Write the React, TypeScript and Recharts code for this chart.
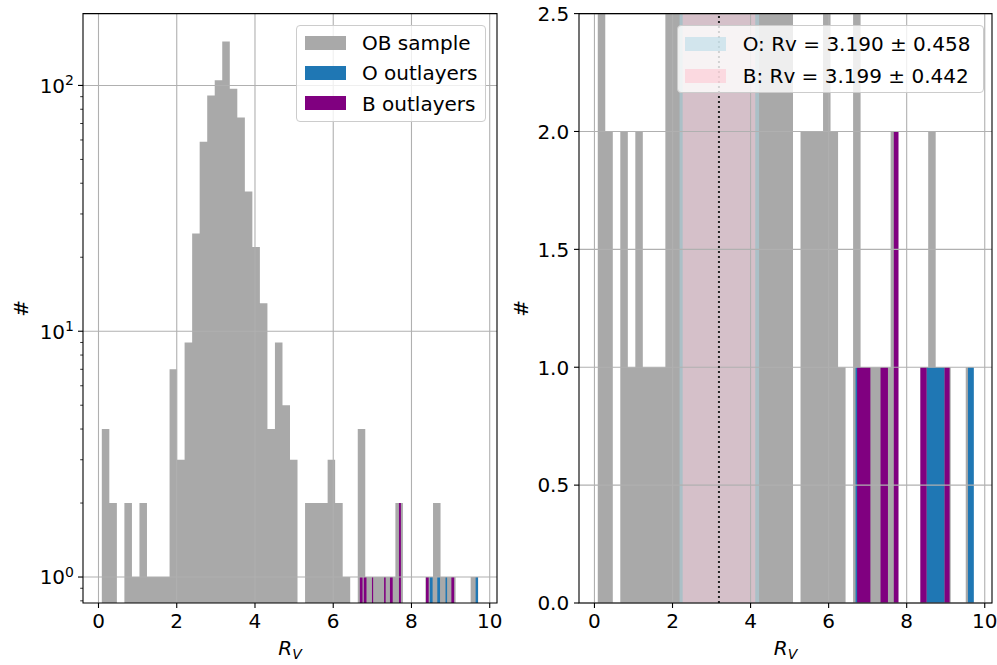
import React from 'react';
import {
  ComposedChart,
  Area,
  XAxis,
  YAxis,
  CartesianGrid,
  ReferenceArea,
  ReferenceLine,
  Legend,
} from 'recharts';

// ---------------- data ----------------
// OB sample histogram: bin edges (R_V) and counts
const obEdges = [
  0.085, 0.277, 0.47, 0.662, 0.855, 1.047, 1.239, 1.432, 1.624, 1.817, 2.009,
  2.201, 2.394, 2.586, 2.779, 2.971, 3.163, 3.356, 3.548, 3.741, 3.933, 4.125,
  4.318, 4.51, 4.703, 4.895, 5.087, 5.28, 5.472, 5.665, 5.857, 6.049, 6.242,
  6.434, 6.627, 6.819, 7.011, 7.204, 7.396, 7.589, 7.781, 7.973, 8.166, 8.358,
  8.551, 8.743, 8.935, 9.128, 9.32, 9.513, 9.705,
];
const obCounts = [
  4, 2, 0, 2, 1, 2, 1, 1, 1, 7, 3, 9, 25, 59, 91, 105, 151, 97, 74, 37, 22, 13,
  4, 9, 5, 3, 0, 2, 2, 2, 3, 2, 1, 0, 4, 1, 1, 1, 1, 2, 0, 0, 0, 1, 2, 1, 1, 0,
  0, 1,
];

// O / B outlayers, left (log) panel: bin starts, ends, counts
const oLeftStart = [8.47, 8.66, 8.87, 9.64];
const oLeftEnd = [8.54, 8.73, 8.91, 9.7];
const oLeftCounts = [1, 1, 1, 1];
const bLeftStart = [6.68, 6.78, 6.99, 7.3, 7.45, 7.68, 8.37, 9.02];
const bLeftEnd = [6.75, 6.85, 7.02, 7.34, 7.52, 7.73, 8.44, 9.09];
const bLeftCounts = [1, 1, 1, 1, 1, 2, 1, 1];

// O / B outlayers, right (linear) panel
const oRightStart = [6.69, 8.51, 9.57];
const oRightEnd = [6.84, 8.97, 9.72];
const oRightCounts = [1, 1, 1];
const bRightStart = [6.73, 7.33, 7.67, 8.35, 8.97];
const bRightEnd = [7.07, 7.52, 7.79, 8.51, 9.1];
const bRightCounts = [1, 1, 2, 1, 1];

// Rv fits
const oMean = 3.19;
const oBand = [2.18, 4.22];
const bBand = [2.26, 4.12];

// axes
const xDomain = [-0.396, 10.186];
const xTicks = [0, 2, 4, 6, 8, 10];
const logDomain = [0.784, 196];
const logMajorTicks = [1, 10, 100];
const logMinorTicks = [0.8, 0.9, 2, 3, 4, 5, 6, 7, 8, 9, 20, 30, 40, 50, 60, 70, 80, 90];
const linDomain = [0, 2.5];
const linTicks = [0, 0.5, 1, 1.5, 2, 2.5];

const leftLegendItems = [
  { label: 'OB sample', color: '#a9a9a9' },
  { label: 'O outlayers', color: '#1f77b4' },
  { label: 'B outlayers', color: '#800080' },
];
const rightLegendItems = [
  { label: 'O: Rv = 3.190 \u00b1 0.458', color: 'rgba(173,216,230,0.5)' },
  { label: 'B: Rv = 3.199 \u00b1 0.442', color: 'rgba(255,192,203,0.5)' },
];

// ---------------- helpers ----------------
const FONT = 'DejaVu Sans, Verdana, sans-serif';
const GRAY = '#a9a9a9';
const BLUE = '#1f77b4';
const PURPLE = '#800080';

type Pt = { x: number; y: number | null };

function stepPoints(starts: number[], ends: number[], counts: number[]): Pt[] {
  const pts: Pt[] = [];
  for (let i = 0; i < counts.length; i++) {
    if (i > 0 && starts[i] > ends[i - 1] + 1e-9) {
      pts.push({ x: (starts[i] + ends[i - 1]) / 2, y: null });
    }
    const c = counts[i];
    if (c > 0) {
      pts.push({ x: starts[i], y: c }, { x: ends[i], y: c });
    } else {
      pts.push({ x: (starts[i] + ends[i]) / 2, y: null });
    }
  }
  return pts;
}

const obStarts = obEdges.slice(0, -1);
const obEnds = obEdges.slice(1);
const obPts = stepPoints(obStarts, obEnds, obCounts);
const oLeftPts = stepPoints(oLeftStart, oLeftEnd, oLeftCounts);
const bLeftPts = stepPoints(bLeftStart, bLeftEnd, bLeftCounts);
const oRightPts = stepPoints(oRightStart, oRightEnd, oRightCounts);
const bRightPts = stepPoints(bRightStart, bRightEnd, bRightCounts);

const XTick = (props: any) => {
  const { x, y, payload } = props;
  return (
    <g>
      <line x1={x} x2={x} y1={y} y2={y + 5} stroke="#000" strokeWidth={1.1} />
      <text x={x} y={y + 25} textAnchor="middle" fontSize={20} fontFamily={FONT} fill="#000">
        {String(payload.value)}
      </text>
    </g>
  );
};

const LogYTick = (props: any) => {
  const { x, y, payload } = props;
  const v = payload.value as number;
  if (!logMajorTicks.includes(v)) {
    return <line x1={x - 2.8} x2={x} y1={y} y2={y} stroke="#000" strokeWidth={0.8} />;
  }
  const exp = Math.round(Math.log10(v));
  return (
    <g>
      <line x1={x - 5} x2={x} y1={y} y2={y} stroke="#000" strokeWidth={1.1} />
      <text x={x - 9} y={y + 7.3} textAnchor="end" fontSize={20} fontFamily={FONT} fill="#000">
        10
        <tspan fontSize={14} dy={-7.5}>
          {String(exp)}
        </tspan>
      </text>
    </g>
  );
};

const LinYTick = (props: any) => {
  const { x, y, payload } = props;
  return (
    <g>
      <line x1={x - 5} x2={x} y1={y} y2={y} stroke="#000" strokeWidth={1.1} />
      <text x={x - 9.8} y={y + 7.3} textAnchor="end" fontSize={20} fontFamily={FONT} fill="#000">
        {(payload.value as number).toFixed(1)}
      </text>
    </g>
  );
};

const xLabel = (props: any) => {
  const vb = props.viewBox || {};
  const cx = vb.x + vb.width / 2;
  const by = vb.y + 52;
  return (
    <text x={cx} y={by} textAnchor="middle" fontSize={20} fontFamily={FONT} fontStyle="italic" fill="#000">
      R
      <tspan fontSize={14} dy={4}>
        V
      </tspan>
    </text>
  );
};

const makeYLabel = (xPos: number) => (props: any) => {
  const vb = props.viewBox || {};
  const cy = vb.y + vb.height / 2;
  const bx = vb.x + xPos;
  return (
    <text
      x={bx}
      y={cy}
      transform={`rotate(-90, ${bx}, ${cy})`}
      textAnchor="middle"
      fontSize={20}
      fontFamily={FONT}
      fill="#000"
    >
      #
    </text>
  );
};

type LegendItem = { label: string; color: string };

const makeLegend = (items: LegendItem[], width: number, height: number, rowTops: number[]) => () => (
  <div
    style={{
      position: 'relative',
      width,
      height,
      boxSizing: 'border-box',
      border: '1px solid #cccccc',
      borderRadius: 4,
      background: 'rgba(255,255,255,0.8)',
      fontFamily: FONT,
      fontSize: 20,
      color: '#000',
    }}
  >
    {items.map((it, i) => (
      <React.Fragment key={i}>
        <div
          style={{
            position: 'absolute',
            left: 7.5,
            top: rowTops[i],
            width: 41,
            height: 14,
            background: it.color,
          }}
        />
        <div
          style={{
            position: 'absolute',
            left: 65,
            top: rowTops[i] - 4.6,
            lineHeight: '24px',
            whiteSpace: 'nowrap',
          }}
        >
          {it.label}
        </div>
      </React.Fragment>
    ))}
  </div>
);

const sortedLogTicks = [...logMinorTicks, ...logMajorTicks].sort((a, b) => a - b);

export default function App() {
  return (
    <div style={{ position: 'absolute', left: 0, top: 0, width: 997, height: 665, background: '#fff' }}>
      {/* Left panel: log scale */}
      <div style={{ position: 'absolute', left: 0, top: 0 }}>
        <ComposedChart width={505} height={665} margin={{ top: 13.6, right: 8, bottom: 0, left: 0 }}>
          <XAxis
            type="number"
            dataKey="x"
            domain={xDomain}
            allowDataOverflow
            ticks={xTicks}
            interval={0}
            height={62}
            tickSize={0}
            tickMargin={0}
            tickLine={false}
            axisLine={false}
            tick={<XTick />}
            label={xLabel}
          />
          <YAxis
            type="number"
            scale="log"
            domain={logDomain}
            allowDataOverflow
            ticks={sortedLogTicks}
            interval={0}
            width={83}
            tickSize={0}
            tickMargin={0}
            tickLine={false}
            axisLine={false}
            tick={<LogYTick />}
            label={makeYLabel(28.3)}
          />
          <Area
            data={obPts}
            dataKey="y"
            name="OB sample"
            type="linear"
            fill={GRAY}
            fillOpacity={1}
            stroke="none"
            baseValue={logDomain[0]}
            connectNulls={false}
            dot={false}
            activeDot={false}
            isAnimationActive={false}
            zIndex={100}
          />
          <Area
            data={oLeftPts}
            dataKey="y"
            name="O outlayers"
            type="linear"
            fill={BLUE}
            fillOpacity={1}
            stroke="none"
            baseValue={logDomain[0]}
            connectNulls={false}
            dot={false}
            activeDot={false}
            isAnimationActive={false}
            zIndex={101}
          />
          <Area
            data={bLeftPts}
            dataKey="y"
            name="B outlayers"
            type="linear"
            fill={PURPLE}
            fillOpacity={1}
            stroke="none"
            baseValue={logDomain[0]}
            connectNulls={false}
            dot={false}
            activeDot={false}
            isAnimationActive={false}
            zIndex={102}
          />
          <CartesianGrid
            stroke="#b0b0b0"
            strokeWidth={1.1}
            horizontalValues={logMajorTicks}
            verticalValues={xTicks}
            zIndex={120}
          />
          <ReferenceArea
            x1={xDomain[0]}
            x2={xDomain[1]}
            y1={logDomain[0]}
            y2={logDomain[1]}
            fill="none"
            fillOpacity={0}
            stroke="#000"
            strokeWidth={1.1}
            ifOverflow="visible"
            zIndex={140}
          />
          <Legend
            layout="vertical"
            align="center"
            verticalAlign="middle"
            wrapperStyle={{ left: 296, top: 25, width: 190, height: 97 }}
            content={makeLegend(leftLegendItems, 190, 97, [9.5, 39.8, 70.1])}
          />
        </ComposedChart>
      </div>

      {/* Right panel: linear scale */}
      <div style={{ position: 'absolute', left: 505, top: 0 }}>
        <ComposedChart width={492} height={665} margin={{ top: 13.6, right: 5, bottom: 0, left: 0 }}>
          <XAxis
            type="number"
            dataKey="x"
            domain={xDomain}
            allowDataOverflow
            ticks={xTicks}
            interval={0}
            height={62}
            tickSize={0}
            tickMargin={0}
            tickLine={false}
            axisLine={false}
            tick={<XTick />}
            label={xLabel}
          />
          <YAxis
            type="number"
            domain={linDomain}
            allowDataOverflow
            ticks={linTicks}
            interval={0}
            width={74}
            tickSize={0}
            tickMargin={0}
            tickLine={false}
            axisLine={false}
            tick={<LinYTick />}
            label={makeYLabel(23.3)}
          />
          <Area
            data={obPts}
            dataKey="y"
            name="OB sample"
            type="linear"
            fill={GRAY}
            fillOpacity={1}
            stroke="none"
            baseValue={0}
            connectNulls={false}
            dot={false}
            activeDot={false}
            legendType="none"
            isAnimationActive={false}
            zIndex={100}
          />
          <Area
            data={oRightPts}
            dataKey="y"
            name="O outlayers"
            type="linear"
            fill={BLUE}
            fillOpacity={1}
            stroke="none"
            baseValue={0}
            connectNulls={false}
            dot={false}
            activeDot={false}
            legendType="none"
            isAnimationActive={false}
            zIndex={101}
          />
          <Area
            data={bRightPts}
            dataKey="y"
            name="B outlayers"
            type="linear"
            fill={PURPLE}
            fillOpacity={1}
            stroke="none"
            baseValue={0}
            connectNulls={false}
            dot={false}
            activeDot={false}
            legendType="none"
            isAnimationActive={false}
            zIndex={102}
          />
          <ReferenceArea
            x1={oBand[0]}
            x2={oBand[1]}
            fill="#add8e6"
            fillOpacity={0.5}
            stroke="none"
            ifOverflow="hidden"
            zIndex={110}
          />
          <ReferenceArea
            x1={bBand[0]}
            x2={bBand[1]}
            fill="#ffc0cb"
            fillOpacity={0.5}
            stroke="none"
            ifOverflow="hidden"
            zIndex={111}
          />
          <CartesianGrid
            stroke="#b0b0b0"
            strokeWidth={1.1}
            horizontalValues={linTicks}
            verticalValues={xTicks}
            zIndex={120}
          />
          <ReferenceLine
            x={oMean}
            stroke="#222"
            strokeWidth={2}
            strokeDasharray="2 3"
            zIndex={130}
          />
          <ReferenceArea
            x1={xDomain[0]}
            x2={xDomain[1]}
            y1={linDomain[0]}
            y2={linDomain[1]}
            fill="none"
            fillOpacity={0}
            stroke="#000"
            strokeWidth={1.1}
            ifOverflow="visible"
            zIndex={140}
          />
          <Legend
            layout="vertical"
            align="center"
            verticalAlign="middle"
            wrapperStyle={{ left: 171.7, top: 25, width: 307, height: 68 }}
            content={makeLegend(rightLegendItems, 307, 68, [10.7, 42.7])}
          />
        </ComposedChart>
      </div>
    </div>
  );
}
